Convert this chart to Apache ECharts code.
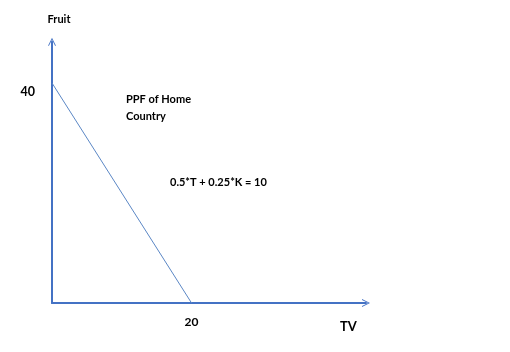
<!DOCTYPE html>
<html><head><meta charset="utf-8">
<script src="https://cdn.jsdelivr.net/npm/echarts@6/dist/echarts.min.js"></script>
<style>html,body{margin:0;padding:0;background:#fff}#c{width:510px;height:352px}</style>
</head><body><div id="c"></div>
<script>
var tvValues = [0, 20];
var fruitValues = [40, 0];
var xTickLabels = ['20'];
var yTickLabels = ['40'];
var xName = 'TV';
var yName = 'Fruit';
var note1 = 'PPF of Home\nCountry';
var note2 = '0.5*T + 0.25*K = 10';

var chart = echarts.init(document.getElementById('c'));
var font = 'Lato, "Open Sans", sans-serif';
var chevron = 'path://M0,10 L5,0 L10,10 L8.8,10 L5,2.4 L1.2,10 Z';
chart.setOption({
  animation: false,
  grid: {left: 52, right: 144, top: 41.75, bottom: 49, containLabel: false},
  xAxis: {
    type: 'value', min: 0, max: 45, interval: 20,
    axisLine: {lineStyle: {color: '#4472c4', width: 2}, symbol: ['none', chevron], symbolSize: [10, 8], onZero: false},
    axisTick: {show: false}, splitLine: {show: false},
    axisLabel: {margin: 13, color: '#000', fontFamily: font, fontWeight: 'bold', fontSize: 12,
      formatter: function(v){ return xTickLabels.indexOf(String(v)) >= 0 ? String(v) : ''; }},
    name: xName, nameLocation: 'end', nameGap: -26,
    nameTextStyle: {color: '#000', fontFamily: font, fontWeight: 'bold', fontSize: 13, verticalAlign: 'top', padding: [17, 0, 0, 0]}
  },
  yAxis: {
    type: 'value', min: 0, max: 47.5, interval: 40,
    axisLine: {lineStyle: {color: '#4472c4', width: 2}, symbol: ['none', chevron], symbolSize: [10, 8], onZero: false},
    axisTick: {show: false}, splitLine: {show: false},
    axisLabel: {margin: 17, color: '#000', fontFamily: font, fontWeight: 'bold', fontSize: 12.5, verticalAlign: 'top', padding: [2, 0, 0, 0],
      formatter: function(v){ return yTickLabels.indexOf(String(v)) >= 0 ? String(v) : ''; }},
    name: yName, nameLocation: 'end', nameGap: 17,
    nameTextStyle: {color: '#000', fontFamily: font, fontWeight: 'bold', fontSize: 11, align: 'center', padding: [0, 0, 0, 14]}
  },
  series: [{
    type: 'line', symbol: 'none',
    data: tvValues.map(function(t, i){ return [t, fruitValues[i]]; }),
    lineStyle: {color: '#5b87c5', width: 1}
  }],
  graphic: [
    {type: 'text', left: 126, top: 91, style: {text: note1, fill: '#000', font: 'bold 11px ' + font, lineHeight: 17}},
    {type: 'text', left: 170, top: 177, style: {text: note2, fill: '#000', font: 'bold 11px ' + font}}
  ]
});
</script></body></html>
